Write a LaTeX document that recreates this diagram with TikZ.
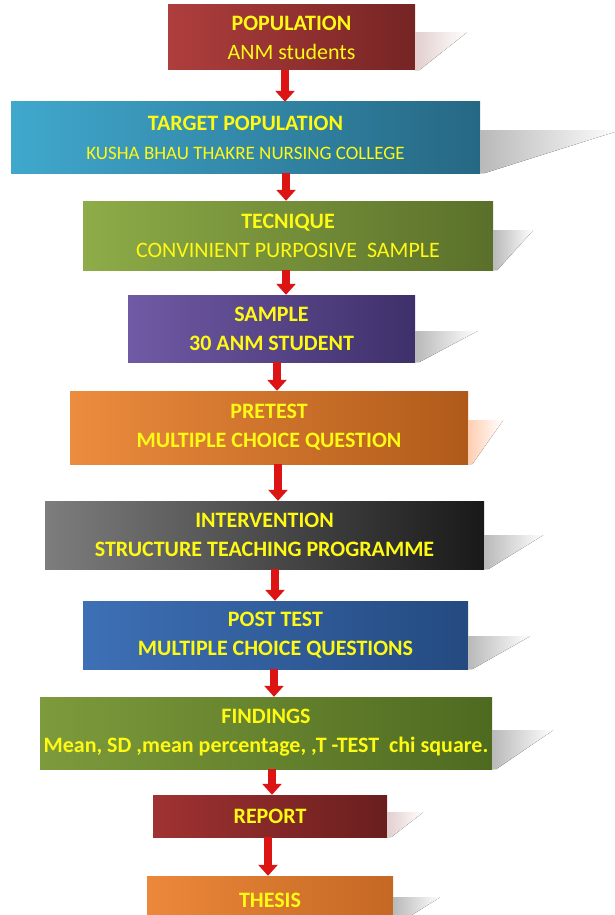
\documentclass[tikz,border=0pt]{standalone}
\usepackage{fontspec}
\setmainfont{Carlito}
\usetikzlibrary{arrows.meta}

\definecolor{txtyellow}{RGB}{255,250,20}
\definecolor{arrred}{RGB}{220,20,20}

\tikzset{
  box/.style={rectangle, inner sep=0pt, align=center, text=txtyellow,
    font=\bfseries\fontsize{22}{29}\selectfont},
  arr/.style={arrred, line width=8pt, -{Triangle[width=19pt,length=11pt]}},
  shade/.style={left color=#1!55!white, right color=white, draw=none}
}

% shadow to the right of a box: node, height, length, tint
\newcommand{\boxshadow}[4]{%
  \fill[shade=#4] (#1.south east) -- ++(0,-#2) -- ++(#3,0) -- ([xshift=4pt]#1.south east) -- cycle;}

\begin{document}
\begin{tikzpicture}[x=1pt,y=-1pt]
  \useasboundingbox (0,0) rectangle (614,915);

  \node [box, minimum width=247pt, minimum height=65pt,
    left color={rgb,255:red,175;green,62;blue,62}, right color={rgb,255:red,118;green,36;blue,36}]
    (pop) at (291.5,37.5) {POPULATION\\\mdseries ANM students};
  \node [box, minimum width=469pt, minimum height=71pt,
    left color={rgb,255:red,64;green,168;blue,205}, right color={rgb,255:red,38;green,104;blue,132}]
    (tgt) at (245.5,137.5) {TARGET POPULATION\\\mdseries\fontsize{19}{29}\selectfont KUSHA BHAU THAKRE NURSING COLLEGE};
  \node [box, minimum width=410pt, minimum height=69pt,
    left color={rgb,255:red,142;green,172;blue,72}, right color={rgb,255:red,90;green,112;blue,42}]
    (tec) at (288,235.5) {TECNIQUE\\\mdseries CONVINIENT PURPOSIVE\ \ SAMPLE};
  \node [box, minimum width=287pt, minimum height=67pt,
    left color={rgb,255:red,112;green,90;blue,165}, right color={rgb,255:red,62;green,48;blue,106}]
    (smp) at (271.5,328.5) {SAMPLE\\30 ANM STUDENT};
  \node [box, minimum width=398pt, minimum height=73pt,
    left color={rgb,255:red,236;green,140;blue,62}, right color={rgb,255:red,176;green,90;blue,26}]
    (pre) at (269,427.5) {PRETEST\\MULTIPLE CHOICE QUESTION};
  \node [box, minimum width=439pt, minimum height=68pt,
    left color={rgb,255:red,125;green,125;blue,125}, right color={rgb,255:red,25;green,25;blue,25}]
    (int) at (264.5,535) {INTERVENTION\\STRUCTURE TEACHING PROGRAMME};
  \node [box, minimum width=385pt, minimum height=68pt,
    left color={rgb,255:red,62;green,112;blue,182}, right color={rgb,255:red,36;green,74;blue,128}]
    (pst) at (275.5,635) {POST TEST\\MULTIPLE CHOICE QUESTIONS};
  \node [box, minimum width=452pt, minimum height=72pt,
    left color={rgb,255:red,125;green,155;blue,60}, right color={rgb,255:red,78;green,106;blue,32}]
    (fnd) at (266,733) {FINDINGS\\Mean, SD ,mean percentage, ,T -TEST\ \ chi square.};
  \node [box, minimum width=234pt, minimum height=42pt,
    left color={rgb,255:red,160;green,50;blue,50}, right color={rgb,255:red,106;green,30;blue,30}]
    (rep) at (270,816) {REPORT};
  \node [box, minimum width=246pt, minimum height=48pt,
    left color={rgb,255:red,236;green,136;blue,58}, right color={rgb,255:red,196;green,104;blue,36}]
    (ths) at (270,900) {THESIS};

  % shadows
  \boxshadow{pop}{38}{52}{pink!60!gray}
  \boxshadow{tgt}{43}{140}{gray}
  \boxshadow{tec}{40}{40}{gray}
  \boxshadow{smp}{31}{62}{gray}
  \boxshadow{pre}{44}{35}{orange!40!pink}
  \boxshadow{int}{34}{59}{gray}
  \boxshadow{pst}{33}{62}{gray}
  \boxshadow{fnd}{39}{61}{gray}
  \boxshadow{rep}{25}{36}{pink!60!gray}
  \boxshadow{ths}{27}{47}{gray}

  % arrows
  \draw [arr] (285,0 |- pop.south) -- (285,0 |- tgt.north);
  \draw [arr] (286,0 |- tgt.south) -- (286,0 |- tec.north);
  \draw [arr] (286,263 |- tec.south) -- (286,0 |- smp.north);
  \draw [arr] (277,0 |- smp.south) -- (277,0 |- pre.north);
  \draw [arr] (278,0 |- pre.south) -- ([yshift=-6pt]278,0 |- pre.south) -- (278,0 |- int.north);
  \draw [arr] (275,0 |- int.south) -- (275,0 |- pst.north);
  \draw [arr] (274,0 |- pst.south) -- (274,0 |- fnd.north);
  \draw [arr] (272,0 |- fnd.south) -- (272,0 |- rep.north);
  \draw [arr] (268,0 |- rep.south) -- (268,0 |- ths.north);
\end{tikzpicture}
\end{document}
